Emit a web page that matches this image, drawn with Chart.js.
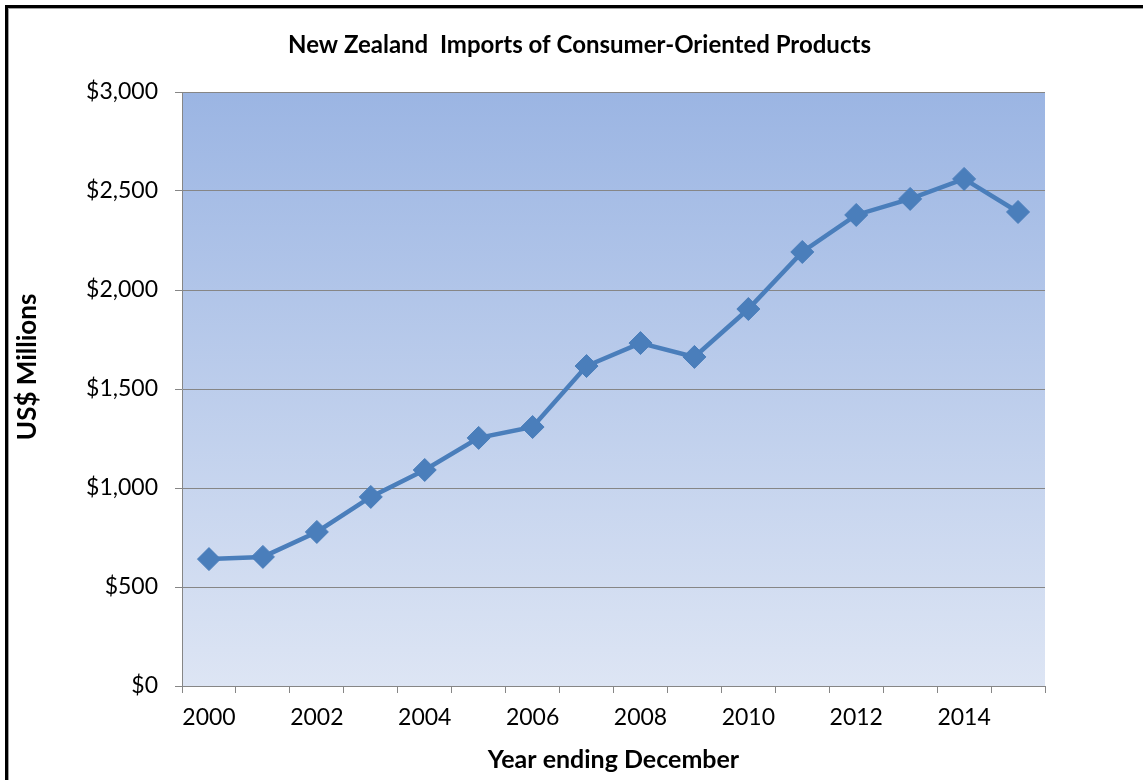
<!DOCTYPE html>
<html>
<head>
<meta charset="utf-8">
<script src="https://cdn.jsdelivr.net/npm/chart.js@4.4.1/dist/chart.umd.min.js"></script>
<style>
  html, body { margin: 0; padding: 0; background: #ffffff; }
  #wrap { width: 1143px; height: 780px; }
</style>
</head>
<body>
<div id="wrap"><canvas id="c" width="1143" height="780"></canvas></div>
<script>
// ---- data ----
const years = ['2000','2001','2002','2003','2004','2005','2006','2007','2008','2009','2010','2011','2012','2013','2014','2015'];
const imports = [641, 652, 778, 955, 1091, 1253, 1308, 1616, 1732, 1662, 1904, 2192, 2379, 2460, 2561, 2394];
const xTickLabels = ['2000','','2002','','2004','','2006','','2008','','2010','','2012','','2014',''];
const yTickValues = [0, 500, 1000, 1500, 2000, 2500, 3000];
const chartTitle = 'New Zealand  Imports of Consumer-Oriented Products';
const xAxisTitle = 'Year ending December';
const yAxisTitle = '       US$ Millions';

const FONT = 'Lato, "Open Sans", "DejaVu Sans", sans-serif';
const LINE_BLUE = '#4A7EBB';
const GRID_GREY = '#868686';

const backdrop = {
  id: 'backdrop',
  beforeDraw(chart) {
    const {ctx, chartArea: a, width, height} = chart;
    ctx.save();
    ctx.fillStyle = '#ffffff';
    ctx.fillRect(0, 0, width, height);
    const g = ctx.createLinearGradient(0, a.top, 0, a.bottom);
    g.addColorStop(0, '#9BB5E3');
    g.addColorStop(1, '#DDE5F4');
    ctx.fillStyle = g;
    ctx.fillRect(a.left, a.top, a.right - a.left, a.bottom - a.top);
    ctx.fillStyle = '#a0a0a0';
    ctx.fillRect(8, 8, width - 8, 1);
    ctx.fillRect(8, 8, 1, height - 8);
    ctx.fillStyle = '#000000';
    ctx.fillRect(5, 5, width - 5, 3);
    ctx.fillRect(5, 5, 3, height - 5);
    ctx.restore();
  }
};

new Chart(document.getElementById('c'), {
  type: 'line',
  data: {
    labels: years,
    datasets: [{
      data: imports,
      yAxisID: 'y',
      borderColor: LINE_BLUE,
      backgroundColor: LINE_BLUE,
      borderWidth: 4.5,
      pointStyle: 'rectRot',
      pointRadius: 11.5,
      pointBorderWidth: 1,
      pointBackgroundColor: LINE_BLUE,
      pointBorderColor: LINE_BLUE,
      tension: 0,
      fill: false
    }]
  },
  options: {
    responsive: false,
    animation: false,
    layout: { padding: { left: 16, right: 0, top: 0, bottom: 0 } },
    plugins: {
      legend: { display: false },
      tooltip: { enabled: false },
      title: {
        display: true,
        text: chartTitle,
        color: '#000000',
        font: { family: FONT, size: 24, weight: 'bold', lineHeight: 1.2 },
        padding: { top: 30.6, bottom: 32.6 }
      }
    },
    scales: {
      x: {
        type: 'category',
        offset: true,
        grid: {
          offset: true,
          drawOnChartArea: false,
          drawTicks: true,
          tickLength: 7,
          color: GRID_GREY,
          lineWidth: 1
        },
        border: { display: true, color: GRID_GREY, width: 1 },
        ticks: {
          autoSkip: false,
          maxRotation: 0,
          minRotation: 0,
          padding: 11,
          color: '#000000',
          font: { family: FONT, size: 23 },
          callback: (v, i) => xTickLabels[i]
        },
        title: {
          display: true,
          text: xAxisTitle,
          color: '#000000',
          font: { family: FONT, size: 25, weight: 'bold', lineHeight: 1.2 },
          padding: { top: 0, bottom: 5 }
        },
        afterFit: (s) => { s.height = 94; }
      },
      y: {
        position: 'left',
        min: 0,
        max: 3000,
        grid: {
          drawOnChartArea: true,
          drawTicks: true,
          tickLength: 7,
          color: GRID_GREY,
          lineWidth: 1
        },
        border: { display: true, color: GRID_GREY, width: 1 },
        afterBuildTicks: (s) => { s.ticks = yTickValues.map(v => ({ value: v })); },
        ticks: {
          padding: 17,
          color: '#000000',
          font: { family: FONT, size: 23 },
          callback: (v) => '$' + Number(v).toLocaleString('en-US')
        },
        title: {
          display: true,
          text: yAxisTitle,
          color: '#000000',
          font: { family: FONT, size: 26, weight: 'bold', lineHeight: 0.8 },
          padding: { top: 1, bottom: 0 }
        },
        afterFit: (s) => { s.width = 166; }
      },
      yRightSpace: {
        position: 'right',
        display: true,
        grid: { display: false, drawTicks: false },
        border: { display: false },
        ticks: { display: false },
        afterFit: (s) => { s.width = 98; }
      }
    }
  },
  plugins: [backdrop]
});
</script>
</body>
</html>
